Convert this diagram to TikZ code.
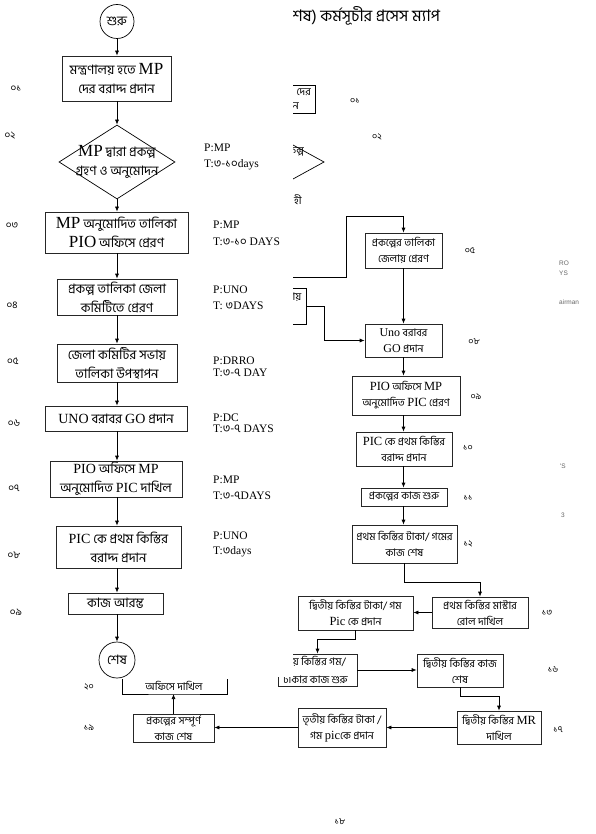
\documentclass[tikz,border=0pt]{standalone}
\usepackage{fontspec}
\setmainfont{Liberation Serif}
\newfontfamily\bn[Script=Bengali]{Hind Siliguri}
\newfontfamily\arl{Liberation Sans}
\usetikzlibrary{arrows.meta,shapes.geometric}
\newcommand\lat[2][14]{{\rmfamily\fontsize{#1}{#1}\selectfont #2}}
\newcommand\bd[1]{{\bn #1}}
\tikzset{
  box/.style={draw=black!85, line width=0.7pt, align=center, inner sep=1pt,
    font=\bn\fontsize{13}{19}\selectfont},
  rbox/.style={box, font=\bn\fontsize{10.5}{16}\selectfont},
  txt/.style={align=center, inner sep=0pt, font=\bn\fontsize{13}{19}\selectfont},
  rtxt/.style={inner sep=0pt, font=\bn\fontsize{10.5}{16}\selectfont},
  arr/.style={-{Latex[length=5pt,width=4pt]}, line width=0.7pt},
  ln/.style={line width=0.7pt},
  num/.style={font=\bn\fontsize{10}{10}\selectfont, inner sep=0pt},
  rnum/.style={font=\bn\fontsize{9}{9}\selectfont, inner sep=0pt},
  ptl/.style={font=\rmfamily\fontsize{11.5}{11.5}\selectfont, anchor=west, inner sep=0pt},
  frag/.style={font=\arl\fontsize{6.5}{7}\selectfont, text=black!60, anchor=west, inner sep=0pt},
}
\begin{document}
\begin{tikzpicture}[x=1pt,y=-1pt]
\useasboundingbox (0,0) rectangle (595,834);

% ---------- left column ----------
\node[draw, circle, ln, minimum size=34pt, inner sep=0pt, font=\bn\fontsize{13}{13}\selectfont] (st) at (117,21.5) {শুরু};
\node[box, minimum width=109pt, minimum height=45pt] (b1) at (116.5,78.5) {মন্ত্রণালয় হতে \lat[17]{MP}\\দের বরাদ্দ প্রদান};
\node[draw, diamond, ln, minimum width=116pt, minimum height=74pt, inner sep=0pt] (d2) at (117,162) {};
\node[txt] (d2t) at (117,162) {\lat[17]{MP} দ্বারা প্রকল্প\\গ্রহণ ও অনুমোদন};
\node[box, minimum width=143pt, minimum height=41pt] (b3) at (116.5,232.5) {\lat[17]{MP} অনুমোদিত  তালিকা\\\lat[17]{PIO} অফিসে প্রেরণ};
\node[box, minimum width=120pt, minimum height=36pt] (b4) at (117,297) {প্রকল্প তালিকা জেলা\\কমিটিতে প্রেরণ};
\node[box, minimum width=120pt, minimum height=38pt] (b5) at (117,363) {জেলা কমিটির সভায়\\তালিকা উপস্থাপন};
\node[box, minimum width=142pt, minimum height=25pt] (b6) at (116,418.5) {\lat[14]{UNO} বরাবর \lat[14]{GO} প্রদান};
\node[box, minimum width=132pt, minimum height=36pt] (b7) at (116,479) {\lat[14]{PIO} অফিসে \lat[14]{MP}\\অনুমোদিত \lat[14]{PIC} দাখিল};
\node[box, minimum width=125pt, minimum height=42pt] (b8) at (118.5,547) {\lat[14]{PIC} কে প্রথম কিস্তির\\বরাদ্দ প্রদান};
\node[box, minimum width=95pt, minimum height=21pt] (b9) at (115.5,603.5) {কাজ আরম্ভ};
\node[draw, circle, ln, minimum size=36pt, inner sep=0pt, font=\bn\fontsize{13}{13}\selectfont] (en) at (117,660) {শেষ};

\draw[arr] (st) -- (st |- b1.north);
\draw[arr] (st |- b1.south) -- (st |- d2.north);
\draw[arr] (st |- d2.south) -- (st |- b3.north);
\draw[arr] (st |- b3.south) -- (st |- b4.north);
\draw[arr] (st |- b4.south) -- (st |- b5.north);
\draw[arr] (st |- b5.south) -- (st |- b6.north);
\draw[arr] (st |- b6.south) -- (st |- b7.north);
\draw[arr] (st |- b7.south) -- (st |- b8.north);
\draw[arr] (st |- b8.south) -- (st |- b9.north);
\draw[arr] (st |- b9.south) -- (en.north);

% step numbers left
\node[num] (n01) at (16,89) {০১};
\node[num] (n02) at (10,136) {০২};
\node[num] (n03) at (12,226) {০৩};
\node[num] (n04) at (12,305) {০৪};
\node[num] (n05) at (13,361) {০৫};
\node[num] (n06) at (14,423) {০৬};
\node[num] (n07) at (14,488) {০৭};
\node[num] (n08) at (14,555) {০৮};
\node[num] (n09) at (16,612) {০৯};

% P / T labels
\node[ptl] (p2) at (204,148) {P:MP};
\node[ptl] (t2) at (204,165) {T:\bd{৩-১০}days};
\node[ptl] (p3) at (213,225) {P:MP};
\node[ptl] (t3) at (213,242) {T:\bd{৩-১০} DAYS};
\node[ptl] (p4) at (213,290) {P:UNO};
\node[ptl] (t4) at (213,306) {T: \bd{৩}DAYS};
\node[ptl] (p5) at (213,361) {P:DRRO};
\node[ptl] (t5) at (213,373) {T:\bd{৩-৭} DAY};
\node[ptl] (p6) at (213,418) {P:DC};
\node[ptl] (t6) at (213,429) {T:\bd{৩-৭} DAYS};
\node[ptl] (p7) at (213,480) {P:MP};
\node[ptl] (t7) at (213,496) {T:\bd{৩-৭}DAYS};
\node[ptl] (p8) at (213,536) {P:UNO};
\node[ptl] (t8) at (213,552) {T:\bd{৩}days};

% ---------- bottom left ----------
\coordinate (bkl) at (122,679);
\coordinate (bkr) at (227,679);
\coordinate (bkm) at (173.5,694);
\draw[ln] (bkl) |- (bkm) -| (bkr);
\node[rtxt] (ofs) at (174,686) {অফিসে দাখিল};
\node[rbox, minimum width=81pt, minimum height=28pt] (b19) at (173.5,728) {প্রকল্পের সম্পূর্ণ\\কাজ শেষ};
\draw[arr] (b19.north) -- (bkm);
\node[rnum] (n20) at (89,687) {২০};
\node[rnum] (n19) at (89,728) {১৯};

% ---------- right column ----------
\node[rbox, minimum width=77pt, minimum height=35pt] (r05) at (403.5,250.5) {প্রকল্পের  তালিকা\\জেলায় প্রেরণ};
\node[rbox, minimum width=77pt, minimum height=33pt] (r08) at (403.5,340.5) {\lat[12]{Uno} বরাবর\\\lat[12]{GO} প্রদান};
\node[rbox, minimum width=108pt, minimum height=39pt] (r09) at (406,395.5) {\lat[12.5]{PIO} অফিসে \lat[12.5]{MP}\\অনুমোদিত \lat[12.5]{PIC}  প্রেরণ};
\node[rbox, minimum width=96pt, minimum height=34pt] (r10) at (404,449) {\lat[12.5]{PIC} কে প্রথম কিস্তির\\বরাদ্দ প্রদান};
\node[rbox, minimum width=86pt, minimum height=18pt] (r11) at (404,497) {প্রকল্পের  কাজ শুরু};
\node[rbox, minimum width=105pt, minimum height=38pt] (r12) at (404.5,544) {প্রথম কিস্তির টাকা/ গমের\\কাজ শেষ};
\node[rbox, minimum width=96pt, minimum height=31pt] (r13) at (480,612.5) {প্রথম কিস্তির  মাস্টার\\রোল দাখিল};
\node[rbox, minimum width=115pt, minimum height=34pt] (r14) at (355.5,613) {দ্বিতীয় কিস্তির টাকা/ গম\\\lat[12.5]{Pic} কে প্রদান};
\node[rbox, minimum width=86pt, minimum height=33pt] (r16) at (460,670.5) {দ্বিতীয় কিস্তির কাজ\\শেষ};
\node[rbox, minimum width=84pt, minimum height=33pt] (r17) at (499,727.5) {দ্বিতীয় কিস্তির \lat[12.5]{MR}\\দাখিল};
\node[rbox, minimum width=88pt, minimum height=39pt] (r18) at (342,727.5) {তৃতীয় কিস্তির টাকা /\\গম \lat[12.5]{pic}কে প্রদান};

\draw[arr] (r05) -- (r08);
\draw[arr] (r08.south) -- (r08.south |- r09.north);
\draw[arr] (r08.south |- r09.south) -- (r08.south |- r10.north);
\draw[arr] (r08.south |- r10.south) -- (r08.south |- r11.north);
\draw[arr] (r08.south |- r11.south) -- (r08.south |- r12.north);
\draw[arr] (r12.south) -- ++(0,19) -| (r13.north);
\draw[arr] (r13.west) -- (r13.west -| r14.east);
\draw[arr] (r16.south) -- ++(0,9) -| (r17.north);
\draw[arr] (r17.west) -- (r17.west -| r18.east);
\draw[arr] (r18.west) -- (r18.west -| b19.east);

% right numbers
\node[rnum] (m01) at (355,101) {০১};
\node[rnum] (m02) at (377,137) {০২};
\node[rnum] (m05) at (470,251) {০৫};
\node[rnum] (m08) at (474,342) {০৮};
\node[rnum] (m09) at (476,397) {০৯};
\node[rnum] (m10) at (468,448) {১০};
\node[rnum] (m11) at (468,498) {১১};
\node[rnum] (m12) at (468,544) {১২};
\node[rnum] (m13) at (547,613) {১৩};
\node[rnum] (m16) at (553,670) {১৬};
\node[rnum] (m17) at (558,730) {১৭};
\node[rnum] (m18) at (340,822) {১৮};

% partially covered items of the right page
\begin{scope}
  \clip (293,0) -- (595,0) -- (595,834) -- (278,834) -- (278,677) -- (293,677) -- cycle;
  \node[inner sep=0pt, anchor=west, font=\bn\fontsize{16}{16}\selectfont] (ttl) at (287,16) {শেষ)  কর্মসূচীর প্রসেস ম্যাপ};
  \coordinate (pa1) at (240,85);
  \coordinate (pa2) at (315,113);
  \draw[ln] (pa1) rectangle (pa2);
  \node[rtxt, anchor=east] (pa3) at (311,92) {দের};
  \node[rtxt, anchor=east] (pa4) at (299,106) {প্রদান};
  \coordinate (dg1) at (262,128);
  \coordinate (dg2) at (324,162);
  \coordinate (dg3) at (262,196);
  \draw[ln] (dg1) -- (dg2) -- (dg3);
  \node[rtxt, anchor=east] (dg4) at (304,152) {প্রকল্প};
  \coordinate (pb1) at (230,288);
  \coordinate (pb2) at (306,324);
  \draw[ln] (pb1) rectangle (pb2);
  \node[rtxt, anchor=east] (pb3) at (301.5,297) {সভায়};
  \coordinate (cn1) at (250,277);
  \coordinate (cn2) at (346,216);
  \draw[arr] (cn1) -| (cn2) -| (r05.north);
  \coordinate (pbe) at (306,306);
  \draw[arr] (pbe) -- ++(18,0) |- (r08.west);
  \node[rbox, minimum width=79pt, minimum height=32pt] (r15) at (317.5,670) {};
  \node[rtxt, anchor=east] (r15a) at (346,661) {দ্বিতীয় কিস্তির গম/};
  \node[rtxt, anchor=east] (r15b) at (348,679) {টাকার কাজ শুরু};
\end{scope}
\node[rtxt, anchor=west] (hi) at (294,200) {হী};
\draw[arr] (r14.south) -- ++(0,9) -| (r15.north);
\draw[arr] (r15.east) -- (r15.east -| r16.west);

% grey fragments at the right edge
\node[frag] (f1) at (559,263) {RO};
\node[frag] (f2) at (559,273) {YS};
\node[frag] (f3) at (559,302) {airman};
\node[frag] (f4) at (560,466) {'S};
\node[frag] (f5) at (561,515) {3};
\end{tikzpicture}
\end{document}
